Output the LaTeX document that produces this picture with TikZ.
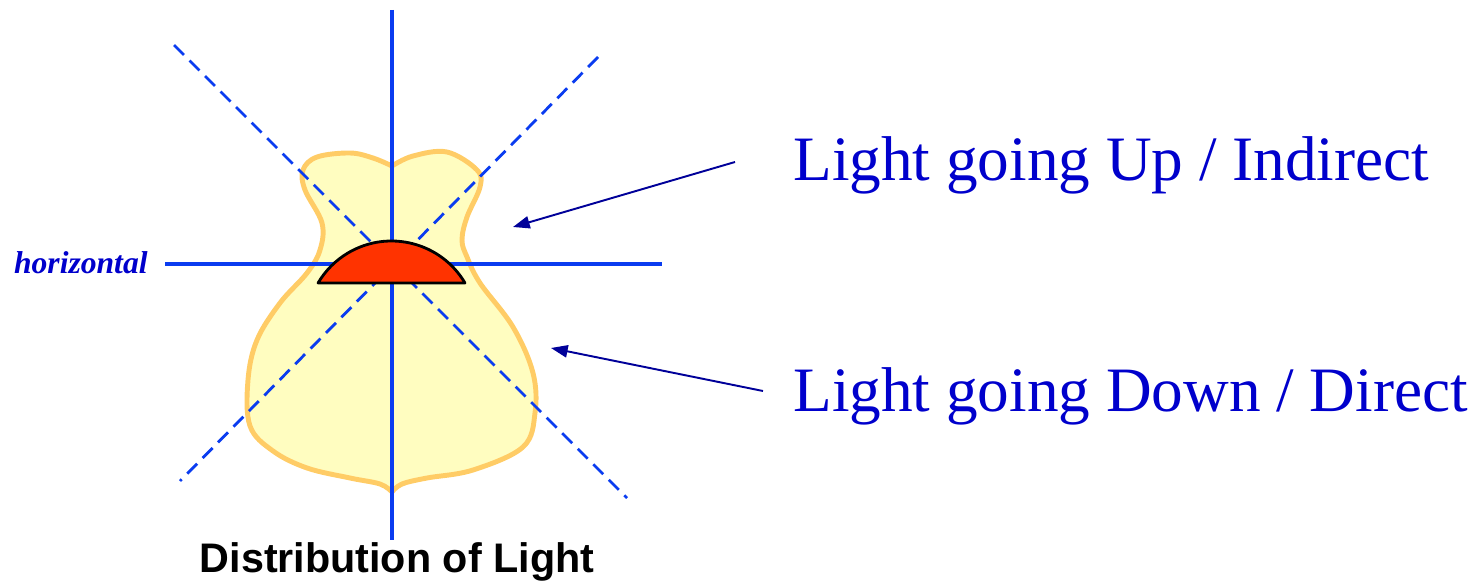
\documentclass[tikz,border=0pt]{standalone}
\usepackage{fontspec}
\setmainfont{Liberation Serif}
\setsansfont{Liberation Sans}
\usepackage{xcolor}
\definecolor{axisblue}{HTML}{0A3CF0}
\definecolor{textblue}{HTML}{0000CC}
\definecolor{arrowblue}{HTML}{000099}
\definecolor{lampfill}{HTML}{FFFDC0}
\definecolor{lampline}{HTML}{FFCC66}
\definecolor{bulbred}{HTML}{FF3300}
\usetikzlibrary{arrows.meta, positioning}

\begin{document}
\begin{tikzpicture}[
        x=0.02cm, y=-0.02cm,
        axis_line/.style={
            draw=axisblue, 
            line width=2.3pt
        },
        ray_line/.style={
            draw=axisblue, 
            line width=1.6pt, 
            dash pattern=on 8pt off 4.5pt
        },
        lamp_shape/.style={
            draw=lampline, 
            fill=lampfill, 
            line width=2.8pt, 
            line join=round
        },
        bulb_shape/.style={
            draw=black, 
            fill=bulbred, 
            line width=1.6pt, 
            line join=round
        },
        label_text/.style={
            text=textblue, 
            inner sep=0pt, 
            font=\fontsize{36}{40}\selectfont
        },
        arrow/.style={
            -{Triangle[length=9.5pt, width=7pt]}, 
            draw=arrowblue, 
            line width=1.1pt
        }
    ]
    \useasboundingbox (0,0) rectangle (1484,581);

    % Light distribution (lamp outline)
    \path[lamp_shape] plot[smooth, tension=0.6] coordinates {(392,492) (380,484) (350,478) (307,468) (273,451) (250,426) (248,380) (257,340) (280,303) (307,273) (320,250) (322,223) (305,190) (303,170) (317,157) (350,153) (373,158) (392,166)}
        -- plot[smooth, tension=0.6] coordinates {(392,166) (413,156) (447,152) (477,170) (480,187) (467,217) (462,240) (467,257) (480,283) (513,327) (533,373) (535,413) (523,447) (473,470) (427,478) (402,484) (392,492)} -- cycle;

    % Axes and 45 degree rays
    \coordinate (centre) at (392,263);
    \draw[axis_line] (392,10) -- (392,540);
    \draw[axis_line] (165,264) -- (662,264);
    \draw[ray_line] (174,45) -- (627,498);
    \draw[ray_line] (598,57) -- (180,481);

    % Luminaire
    \path[bulb_shape] (465,283) arc[start angle=30.5, end angle=149.5, radius=1.706cm] -- cycle;

    % Labels
    \node[label_text, anchor=base west] (up) at (793,180) {Light going Up / Indirect};
    \node[label_text, anchor=base west] (down) at (793,411) {Light going Down / Direct};
    \node[text=textblue, inner sep=0pt, anchor=base east, font=\fontsize{18}{20}\selectfont\bfseries\itshape] (horiz) at (148,273) {horizontal};
    \node[inner sep=0pt, anchor=base, font=\sffamily\bfseries\fontsize{23.5}{28}\selectfont] (title) at (397,572) {Distribution of Light};

    % Arrows to the lobes
    \coordinate (uptail) at (735,162);
    \coordinate (uptip) at (513,227);
    \coordinate (downtail) at (763,391);
    \coordinate (downtip) at (551,348);
    \draw[arrow] (uptail) -- (uptip);
    \draw[arrow] (downtail) -- (downtip);

\end{tikzpicture}
\end{document}
